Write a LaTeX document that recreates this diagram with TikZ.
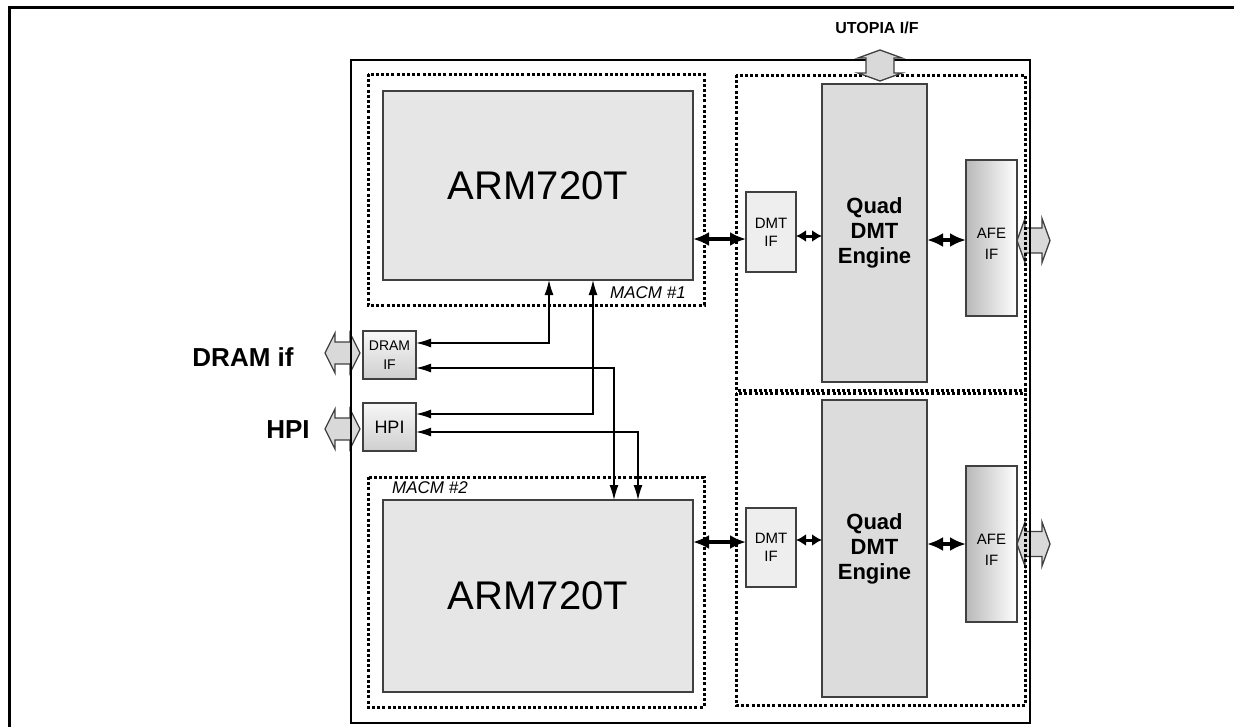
\documentclass[tikz,border=0pt]{standalone}
\usepackage{fontspec}
\setmainfont{Liberation Sans}
\usetikzlibrary{arrows.meta}
\definecolor{edge}{HTML}{404040}
\definecolor{armfill}{HTML}{E6E6E6}
\definecolor{quadfill}{HTML}{DCDCDC}
\definecolor{dmtfill}{HTML}{EEEEEE}
\definecolor{hollowfill}{HTML}{D9D9D9}
\begin{document}
\begin{tikzpicture}[x=1pt,y=-1pt,
  box/.style={draw=edge, line width=1.3pt, inner sep=0pt, outer sep=0pt, rectangle, align=center},
  armbox/.style={box, fill=armfill, font=\fontsize{40}{48}\selectfont},
  quadbox/.style={box, fill=quadfill, font=\bfseries\fontsize{22}{25}\selectfont},
  dmtbox/.style={box, fill=dmtfill, font=\fontsize{15}{18}\selectfont},
  afebox/.style={box, left color=gray!55, right color=white, font=\fontsize{15}{21}\selectfont},
  iobox/.style={box, top color=gray!6, bottom color=gray!38},
  region/.style={draw=black, line width=3pt, dash pattern=on 3pt off 2.2pt},
  bigarr/.style={line width=3.5pt, {Latex[length=16pt,width=14pt]}-{Latex[length=16pt,width=14pt]}},
  smallbig/.style={line width=3pt, {Latex[length=10pt,width=12pt]}-{Latex[length=10pt,width=12pt]}},
  thinarr/.style={line width=1.3pt, {Latex[length=15pt,width=9pt]}-{Latex[length=15pt,width=9pt]}},
  hollow/.style={draw=edge, fill=hollowfill, line width=1.3pt, line join=miter},
  pics/dblarrow/.style n args={4}{code={
    \path[hollow] (-#1,0) -- (-#1+#2,-#3) -- (-#1+#2,-#4) -- (#1-#2,-#4) -- (#1-#2,-#3) -- (#1,0)
      -- (#1-#2,#3) -- (#1-#2,#4) -- (-#1+#2,#4) -- (-#1+#2,#3) -- cycle;}},
  lbl/.style={inner sep=0pt}
]
\useasboundingbox (0,0) rectangle (1234,726);

% outer frame (partly cut)
\draw[line width=3pt] (9.5,760) -- (9.5,7) -- (1260,7);

% side hollow arrows (under chip border)
\pic at (342.5,353) {dblarrow={17.5}{10}{20}{11}};
\pic at (342.5,429) {dblarrow={17.5}{10}{20}{11}};
\pic at (1033.5,240.5) {dblarrow={16.5}{8}{22}{12.5}};
\pic at (1033.5,544) {dblarrow={16.5}{8}{22}{12.5}};

% chip
\draw[line width=1.6pt] (351,60) rectangle (1030,723);

% dotted regions
\draw[region] (368,74) rectangle (704,305);
\draw[region] (368,477) rectangle (704,707);
\draw[region] (736,75) rectangle (1025,390);
\draw[region] (736,393) rectangle (1025,705);

% blocks
\node[armbox, minimum width=310pt, minimum height=189pt] (arm1) at (538,185.5) {ARM720T};
\node[armbox, minimum width=310pt, minimum height=192pt] (arm2) at (538,596) {ARM720T};
\node[quadbox, minimum width=105pt, minimum height=298pt] (quad1) at (874.5,233) {Quad\\DMT\\Engine};
\node[quadbox, minimum width=105pt, minimum height=297pt] (quad2) at (874.5,548.5) {Quad\\DMT\\Engine};
\node[dmtbox, minimum width=50pt, minimum height=80pt] (dmt1) at (771,232) {DMT\\IF};
\node[dmtbox, minimum width=50pt, minimum height=79pt] (dmt2) at (771,547.5) {DMT\\IF};
\node[afebox, minimum width=51pt, minimum height=156pt] (afe1) at (991.5,238) {};
\node[afebox, minimum width=51pt, minimum height=156pt] (afe2) at (991.5,544) {};
\node[lbl, align=center, font=\fontsize{15}{21}\selectfont] (afe1t) at (991.5,244) {AFE\\IF};
\node[lbl, align=center, font=\fontsize{15}{21}\selectfont] (afe2t) at (991.5,550) {AFE\\IF};
\node[iobox, minimum width=53pt, minimum height=48pt, font=\fontsize{14}{19}\selectfont] (dram) at (389.5,355) {DRAM\\IF};
\node[iobox, minimum width=53pt, minimum height=48pt, font=\fontsize{18}{22}\selectfont] (hpi) at (389.5,427) {HPI};

% labels
\node[lbl, font=\itshape\fontsize{17}{20}\selectfont] (m1) at (648,293) {MACM \#1};
\node[lbl, font=\itshape\fontsize{17}{20}\selectfont] (m2) at (430,488) {MACM \#2};
\node[lbl, font=\bfseries\fontsize{26}{30}\selectfont] (dramlbl) at (243,357) {DRAM if};
\node[lbl, font=\bfseries\fontsize{26}{30}\selectfont] (hpilbl) at (288,430) {HPI};
\node[lbl, font=\bfseries\fontsize{16}{19}\selectfont] (utopia) at (877,28) {UTOPIA I/F};

% thick bidirectional connectors
\draw[bigarr] (arm1.east |- 0,239) -- (dmt1.west |- 0,239);
\draw[smallbig] (dmt1.east |- 0,236) -- (quad1.west |- 0,236);
\draw[bigarr] (quad1.east |- 0,240) -- (afe1.west |- 0,240);
\draw[bigarr] (arm2.east |- 0,542) -- (dmt2.west |- 0,542);
\draw[smallbig] (dmt2.east |- 0,540) -- (quad2.west |- 0,540);
\draw[bigarr] (quad2.east |- 0,544) -- (afe2.west |- 0,544);

% thin connectors
\draw[thinarr] (arm1.south -| 549,0) |- (dram.east |- 0,343);
\draw[thinarr] (dram.east |- 0,368) -| (arm2.north -| 614,0);
\draw[thinarr] (hpi.east |- 0,414) -| (arm1.south -| 593,0);
\draw[thinarr] (hpi.east |- 0,432) -| (arm2.north -| 638,0);

% UTOPIA arrow on top
\pic[rotate=90] at (880,65.5) {dblarrow={15.5}{8}{22}{14}};
\end{tikzpicture}
\end{document}
